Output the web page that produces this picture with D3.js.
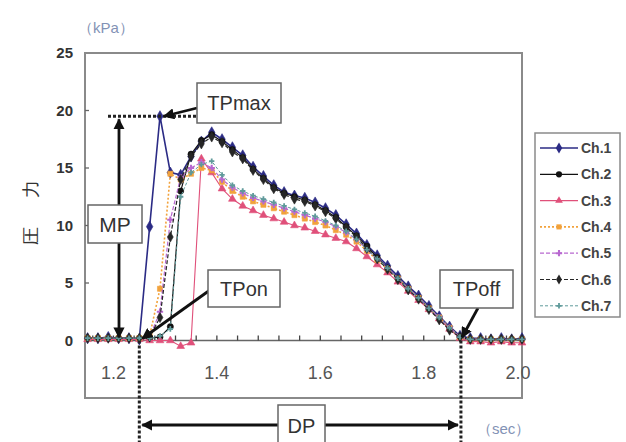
<!DOCTYPE html>
<html>
<head>
<meta charset="utf-8">
<script src="https://cdn.jsdelivr.net/npm/d3@7"></script>
<style>
  body { margin: 0; background: #fff; }
  text { font-family: "Liberation Sans", Arial, sans-serif; }
</style>
</head>
<body>
<script>
"use strict";

// time (sec), one sample every 0.02 s
const times = [1.15, 1.17, 1.19, 1.21, 1.23, 1.25, 1.27, 1.29, 1.31, 1.33, 1.35,
  1.37, 1.39, 1.41, 1.43, 1.45, 1.47, 1.49, 1.51, 1.53, 1.55, 1.57, 1.59, 1.61,
  1.63, 1.65, 1.67, 1.69, 1.71, 1.73, 1.75, 1.77, 1.79, 1.81, 1.83, 1.85, 1.87,
  1.89, 1.91, 1.93, 1.95, 1.97, 1.99];

const ch1 = [0.2, 0.2, 0.3, 0.2, 0.2, 0.1, 9.9, 19.5, 14.6, 14.4, 16.0, 17.3, 18.1,
  17.5, 16.8, 16.1, 15.1, 14.3, 13.5, 12.9, 12.6, 12.4, 12.0, 11.5, 10.9, 10.1,
  9.3, 8.3, 7.4, 6.5, 5.6, 4.7, 3.9, 3.0, 2.1, 1.2, 0.4, 0.2, 0.2, 0.1, 0.2, 0.1, 0.2];
const ch2 = [0.2, 0.2, 0.2, 0.2, 0.2, 0.2, 0.2, 0.3, 1.2, 13.0, 16.2, 17.4, 17.9,
  17.3, 16.6, 15.9, 14.9, 14.1, 13.3, 12.8, 12.5, 12.2, 11.8, 11.3, 10.7, 9.9,
  9.1, 8.2, 7.2, 6.3, 5.4, 4.5, 3.7, 2.8, 1.9, 1.0, 0.3, 0.1, 0.1, 0.1, 0.1, 0.1, 0.1];
const ch3 = [0.1, 0.1, 0.1, 0.1, 0.1, 0.1, 0.0, 0.0, 0.0, -0.5, -0.2, 15.8, 14.6,
  13.2, 12.3, 11.7, 11.3, 10.9, 10.6, 10.3, 10.0, 9.8, 9.5, 9.2, 8.9, 8.6,
  8.0, 7.3, 6.6, 5.9, 5.1, 4.3, 3.5, 2.7, 1.9, 1.0, 0.2, -0.1, -0.1, -0.2, -0.1, -0.2, -0.2];
const ch4 = [0.2, 0.2, 0.2, 0.2, 0.2, 0.2, 0.4, 4.5, 14.5, 14.0, 14.5, 15.0, 14.8,
  13.8, 13.0, 12.5, 12.1, 11.8, 11.5, 11.2, 10.9, 10.6, 10.3, 10.0, 9.6, 9.2,
  8.6, 7.8, 7.0, 6.2, 5.4, 4.5, 3.7, 2.8, 2.0, 1.1, 0.3, 0.1, 0.1, 0.1, 0.1, 0.1, 0.1];
const ch5 = [0.2, 0.2, 0.2, 0.2, 0.2, 0.2, 0.3, 2.5, 10.5, 14.2, 15.0, 15.5, 15.0,
  14.0, 13.3, 12.8, 12.4, 12.1, 11.8, 11.5, 11.2, 10.9, 10.6, 10.3, 9.9, 9.4,
  8.8, 7.9, 7.1, 6.3, 5.4, 4.5, 3.7, 2.8, 2.0, 1.1, 0.3, 0.1, 0.1, 0.1, 0.1, 0.1, 0.1];
const ch6 = [0.2, 0.2, 0.2, 0.2, 0.2, 0.2, 0.3, 2.0, 9.0, 14.0, 16.0, 17.1, 17.7,
  17.2, 16.4, 15.8, 14.8, 14.0, 13.2, 12.7, 12.3, 12.1, 11.7, 11.2, 10.6, 9.8,
  9.0, 8.0, 7.1, 6.2, 5.3, 4.4, 3.6, 2.7, 1.8, 0.9, 0.3, 0.1, 0.1, 0.1, 0.1, 0.1, 0.1];
const ch7 = [0.2, 0.2, 0.2, 0.2, 0.2, 0.2, 0.2, 0.4, 1.0, 12.5, 14.6, 15.3, 15.6,
  14.4, 13.5, 13.0, 12.6, 12.3, 12.0, 11.7, 11.4, 11.1, 10.8, 10.4, 10.0, 9.5,
  8.8, 7.9, 7.1, 6.3, 5.4, 4.5, 3.7, 2.8, 2.0, 1.1, 0.3, 0.1, 0.1, 0.1, 0.1, 0.1, 0.1];

const seriesNames = ["Ch.1", "Ch.2", "Ch.3", "Ch.4", "Ch.5", "Ch.6", "Ch.7"];
const xLabels = [1.2, 1.4, 1.6, 1.8, 2.0];
const yLabels = [0, 5, 10, 15, 20, 25];

// event times
const tpOn = 1.25;
const tpOff = 1.87;

const styles = [
  { color: "#2b2b85", dash: null, width: 1.6, symbol: d3.symbolDiamond, size: 36 },
  { color: "#111111", dash: null, width: 1.2, symbol: d3.symbolCircle, size: 30 },
  { color: "#e0507a", dash: null, width: 1.1, symbol: d3.symbolTriangle, size: 26 },
  { color: "#f2a23c", dash: "2,2", width: 1.6, symbol: d3.symbolSquare, size: 26 },
  { color: "#b868d0", dash: "4,2", width: 1.2, symbol: d3.symbolCross, size: 22 },
  { color: "#262626", dash: "4,2", width: 1.2, symbol: d3.symbolDiamond, size: 30 },
  { color: "#5f9a9a", dash: "3,2", width: 1.0, symbol: d3.symbolCross, size: 16 }
];

const allSeries = [ch1, ch2, ch3, ch4, ch5, ch6, ch7];

let svg = d3.select("body").append("svg")
  .attr("width", 626)
  .attr("height", 442);

const x = d3.scaleLinear().domain([1.145, 1.99]).range([85, 522]);
const y = d3.scaleLinear().domain([-5, 25]).range([398, 53]);

let defs = svg.append("defs");
defs.append("marker")
  .attr("id", "head")
  .attr("viewBox", "0 0 10 10")
  .attr("refX", 9)
  .attr("refY", 5)
  .attr("markerWidth", 4)
  .attr("markerHeight", 4)
  .attr("orient", "auto-start-reverse")
  .append("path")
  .attr("d", "M0,0 L10,5 L0,10 z")
  .attr("fill", "#111");

// frame
svg.append("rect")
  .attr("x", 85).attr("y", 53)
  .attr("width", 437).attr("height", 345)
  .attr("fill", "none")
  .attr("stroke", "#8a8a8a")
  .attr("stroke-width", 2);

// x axis line at y = 0 with inside ticks
svg.append("line")
  .attr("x1", x.range()[0]).attr("x2", x.range()[1])
  .attr("y1", y(0)).attr("y2", y(0))
  .attr("stroke", "#666").attr("stroke-width", 1.5);

svg.append("g").selectAll("line")
  .data(d3.range(1.16, 1.99, 0.04))
  .enter().append("line")
  .attr("x1", d => x(d)).attr("x2", d => x(d))
  .attr("y1", y(0)).attr("y2", y(0) - 5)
  .attr("stroke", "#444").attr("stroke-width", 1.3);

svg.append("g").selectAll("text")
  .data(xLabels)
  .enter().append("text")
  .attr("x", d => Math.min(x(d), 518))
  .attr("y", 379)
  .attr("text-anchor", "middle")
  .attr("font-size", 18)
  .attr("fill", "#555")
  .text(d => d.toFixed(1));

// y axis ticks and labels
svg.append("g").selectAll("line")
  .data(yLabels.slice(1, 5))
  .enter().append("line")
  .attr("x1", 85).attr("x2", 89)
  .attr("y1", d => y(d)).attr("y2", d => y(d))
  .attr("stroke", "#666").attr("stroke-width", 1.3);

svg.append("g").selectAll("text")
  .data(yLabels)
  .enter().append("text")
  .attr("x", 73)
  .attr("y", d => y(d) + 5)
  .attr("text-anchor", "end")
  .attr("font-size", 15)
  .attr("font-weight", "bold")
  .attr("fill", "#333")
  .text(d => d);

// units and axis title
svg.append("text")
  .attr("x", 78).attr("y", 33)
  .attr("font-family", "Noto Sans CJK JP")
  .attr("font-size", 15)
  .attr("fill", "#8392b5")
  .text("（kPa）");

svg.append("text")
  .attr("x", 477).attr("y", 434)
  .attr("font-family", "Noto Sans CJK JP")
  .attr("font-size", 15)
  .attr("fill", "#8392b5")
  .text("（sec）");

svg.append("g").selectAll("text")
  .data([["圧", 236], ["力", 189]])
  .enter().append("text")
  .attr("transform", d => `translate(37,${d[1]}) rotate(-90)`)
  .attr("text-anchor", "middle")
  .attr("font-family", "Noto Sans CJK JP")
  .attr("font-size", 18)
  .attr("fill", "#333")
  .text(d => d[0]);

// series
let plot = svg.append("g");
allSeries.forEach((vals, i) => {
  const st = styles[i];
  const pts = times.map((t, k) => [t, vals[k]]);
  plot.append("path")
    .datum(pts)
    .attr("fill", "none")
    .attr("stroke", st.color)
    .attr("stroke-width", st.width)
    .attr("stroke-dasharray", st.dash)
    .attr("d", d3.line().x(d => x(d[0])).y(d => y(d[1])));
  plot.append("g").selectAll("path")
    .data(pts)
    .enter().append("path")
    .attr("transform", d => `translate(${x(d[0])},${y(d[1])})`)
    .attr("d", d3.symbol().type(st.symbol).size(st.size))
    .attr("fill", st.color)
    .attr("stroke", st.symbol === d3.symbolCross ? "none" : st.color)
    .attr("stroke-width", 0.6);
});

// annotations
let ann = svg.append("g");
const peakIdx = ch1.indexOf(d3.max(ch1));
const peakX = x(times[peakIdx]);
const peakY = y(ch1[peakIdx]);

function box(x0, y0, w, h, label, size) {
  ann.append("rect")
    .attr("x", x0).attr("y", y0)
    .attr("width", w).attr("height", h)
    .attr("fill", "#fff")
    .attr("stroke", "#666")
    .attr("stroke-width", 1.5);
  ann.append("text")
    .attr("x", x0 + w / 2).attr("y", y0 + h / 2 + size * 0.36)
    .attr("text-anchor", "middle")
    .attr("font-size", size)
    .attr("fill", "#333")
    .text(label);
}

function arrow(x1, y1, x2, y2, both) {
  ann.append("line")
    .attr("x1", x1).attr("y1", y1)
    .attr("x2", x2).attr("y2", y2)
    .attr("stroke", "#111")
    .attr("stroke-width", 2.8)
    .attr("marker-end", "url(#head)")
    .attr("marker-start", both ? "url(#head)" : null);
}

function dotted(x1, y1, x2, y2) {
  ann.append("line")
    .attr("x1", x1).attr("y1", y1)
    .attr("x2", x2).attr("y2", y2)
    .attr("stroke", "#222")
    .attr("stroke-width", 3)
    .attr("stroke-dasharray", "3,2");
}

// peak level and MP
dotted(108, peakY, 196, peakY);
arrow(119, peakY + 3, 119, y(0) - 3, true);
box(88, 205, 54, 38, "MP", 21);

// TPmax
arrow(197, 108, peakX + 4, peakY, false);
box(197, 83, 84, 40, "TPmax", 20);

// TPon / TPoff
arrow(210, 290, x(tpOn) + 3, y(0) - 2, false);
box(208, 270, 72, 37, "TPon", 20);
arrow(478, 308, x(tpOff) + 2, y(0) - 3, false);
box(440, 270, 73, 38, "TPoff", 20);

// DP
dotted(x(tpOn), y(0), x(tpOn), 442);
dotted(x(tpOff) + 1, y(0), x(tpOff) + 1, 442);
arrow(x(tpOn) + 3, 425, x(tpOff) - 2, 425, true);
box(278, 405, 47, 42, "DP", 20);

// legend
let legend = svg.append("g");
legend.append("rect")
  .attr("x", 535).attr("y", 133)
  .attr("width", 85).attr("height", 184)
  .attr("fill", "#fff")
  .attr("stroke", "#8a8a8a")
  .attr("stroke-width", 1.5);

seriesNames.forEach((name, i) => {
  const st = styles[i];
  const ly = 148 + i * 26.3;
  legend.append("line")
    .attr("x1", 540).attr("x2", 578)
    .attr("y1", ly).attr("y2", ly)
    .attr("stroke", st.color)
    .attr("stroke-width", st.width)
    .attr("stroke-dasharray", st.dash);
  legend.append("path")
    .attr("transform", `translate(559,${ly})`)
    .attr("d", d3.symbol().type(st.symbol).size(st.size))
    .attr("fill", st.color);
  legend.append("text")
    .attr("x", 581).attr("y", ly + 5)
    .attr("font-size", 14)
    .attr("font-weight", "bold")
    .attr("fill", "#444")
    .text(name);
});
</script>
</body>
</html>
